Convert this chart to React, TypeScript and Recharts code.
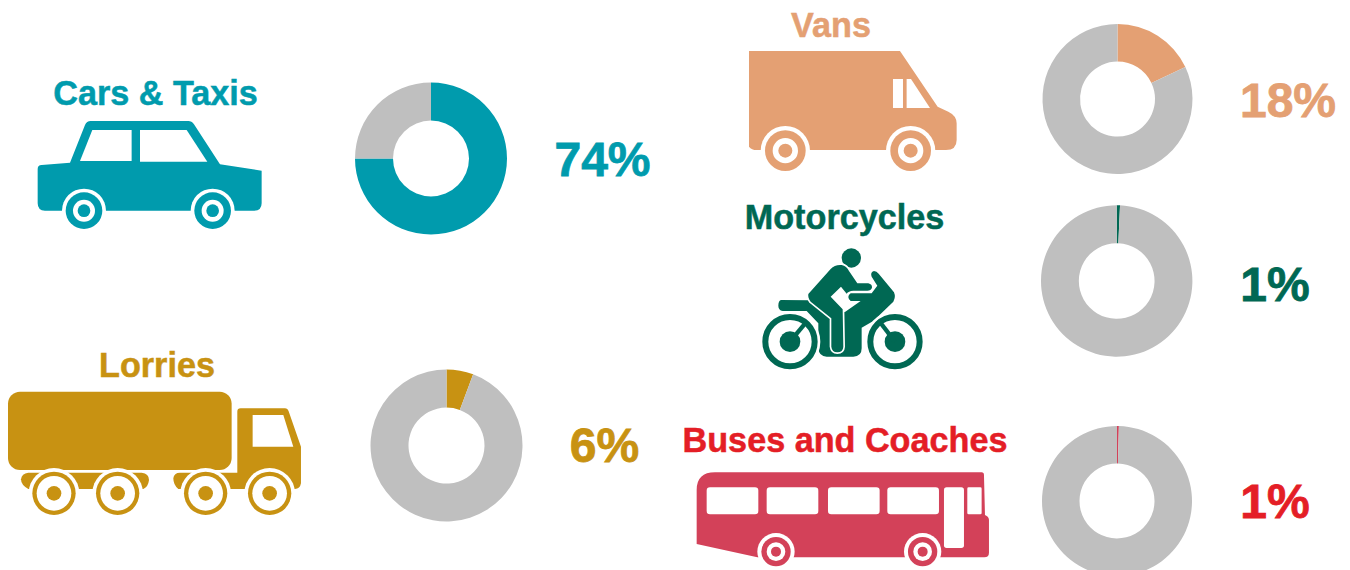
import React from "react";
import { PieChart, Pie, Cell } from "recharts";

const categories = ["Cars & Taxis", "Lorries", "Vans", "Motorcycles", "Buses and Coaches"];
const shareLabels = ["74%", "6%", "18%", "1%", "1%"];
const shareValues = [75, 5.7, 18, 0.7, 0.4];
const restValues = [25, 94.3, 82, 99.3, 99.6];

const GREY = "#BFBFBF";
const iconColors = ["#009BAD", "#C89212", "#E4A073", "#006853", "#D34159"];
const textColors = ["#009BAD", "#C89212", "#E4A073", "#006853", "#E41E26"];
const pieCenters = [
  [431, 158.5, 76],
  [446.5, 445.5, 76],
  [1117.5, 99, 75],
  [1116.7, 281, 75.7],
  [1117, 501, 75],
];
const titlePos = [
  [155.5, 105],
  [157, 377],
  [831, 37],
  [844.5, 229],
  [845, 452],
];
const labelPos = [
  [602.5, 176],
  [604.5, 462],
  [1288, 117],
  [1275, 301],
  [1275, 518],
];

const FONT = "'Liberation Sans', Arial, sans-serif";

function Wheel({ x, y, gap, outer, inner, hub, color }: any) {
  return (
    <g>
      <circle cx={x} cy={y} r={gap} fill="#fff" />
      <circle cx={x} cy={y} r={outer} fill={color} />
      <circle cx={x} cy={y} r={inner} fill="#fff" />
      <circle cx={x} cy={y} r={hub} fill={color} />
    </g>
  );
}

function Car({ color }: { color: string }) {
  return (
    <g transform="translate(20,70) scale(0.3333)" fill={color}>
      <path d="M150,278 L195,165 Q200,153 212,153 L505,153 Q515,153 522,163 L600,283 L725,302 L725,400 Q725,422 703,422 L75,422 Q53,422 53,400 L53,297 Q53,285 65,285 Z" />
      <path d="M217,180 L335,180 L335,273 L180,273 Z" fill="#fff" />
      <path d="M360,180 L500,180 L562,275 L360,275 Z" fill="#fff" />
      <Wheel x={192} y={422} gap={66} outer={55} inner={33} hub={19} color={color} />
      <Wheel x={578} y={422} gap={66} outer={55} inner={33} hub={19} color={color} />
    </g>
  );
}

function Lorry({ color }: { color: string }) {
  return (
    <g transform="translate(0,340) scale(0.3333)" fill={color}>
      <rect x={24} y={155} width={671} height={235} rx={36} />
      <path d="M712,215 Q712,205 722,205 L855,205 Q863,205 866,214 L903,320 L903,430 Q900,447 885,447 L535,447 Q520,435 520,415 Q522,398 540,398 L712,398 Z" />
      <path d="M85,398 L425,398 Q447,400 447,420 Q445,440 430,447 L85,447 Q63,435 63,418 Q65,400 85,398 Z" />
      <path d="M758,225 L850,225 L880,320 L758,320 Z" fill="#fff" />
      <Wheel x={162} y={460} gap={76} outer={65} inner={52} hub={22} color={color} />
      <Wheel x={353} y={460} gap={76} outer={65} inner={52} hub={22} color={color} />
      <Wheel x={617} y={460} gap={76} outer={65} inner={52} hub={22} color={color} />
      <Wheel x={809} y={460} gap={76} outer={65} inner={52} hub={22} color={color} />
    </g>
  );
}

function Van({ color }: { color: string }) {
  return (
    <g transform="translate(740,0) scale(0.3333)" fill={color}>
      <path d="M27,153 L480,153 L593,320 L625,335 Q650,347 650,370 L650,420 Q650,450 618,450 L50,450 Q35,450 27,440 Z" />
      <rect x={459} y={237} width={30} height={87} fill="#fff" />
      <path d="M500,237 L513,237 L570,324 L500,324 Z" fill="#fff" />
      <Wheel x={136} y={452} gap={74} outer={61} inner={38} hub={21} color={color} />
      <Wheel x={512} y={452} gap={74} outer={61} inner={38} hub={21} color={color} />
    </g>
  );
}

function Motorcycle({ color }: { color: string }) {
  const wheel = (x: number) => (
    <g>
      <circle cx={x} cy={440} r={91} fill="#fff" />
      <circle cx={x} cy={440} r={74} fill="#fff" stroke={color} strokeWidth={18} />
      <circle cx={x} cy={440} r={31} fill={color} />
    </g>
  );
  return (
    <g transform="translate(740,195) scale(0.3333)" fill={color}>
      <path d="M125,315 L205,316 L268,365 L316,350 L362,318 L332,318 Q318,306 332,295 L395,295 L412,272 L395,245 Q390,232 402,228 Q410,228 416,236 L462,292 Q468,306 460,320 L400,378 L365,398 L365,460 Q365,485 340,485 L260,485 Q237,485 235,460 L235,385 L200,348 L128,348 Q115,345 115,332 Q115,315 125,315 Z" />
      {wheel(150)}
      {wheel(465)}
      <path d="M200,380 L150,440" stroke={color} strokeWidth={13} />
      <path d="M415,375 L465,440" stroke={color} strokeWidth={13} />
      <circle cx={334} cy={189} r={29} />
      <path
        d="M205,297 L272,222 Q285,208 305,210 Q320,213 327,228 L352,265 L385,265 Q397,268 396,278 Q393,287 382,287 L340,287 Q325,288 320,296 L303,275 L272,305 L308,343 L310,455 Q309,472 292,472 Q276,472 274,455 L274,370 L212,320 Q203,308 205,297 Z"
        stroke="#fff"
        strokeWidth={10}
        style={{ paintOrder: "stroke" }}
      />
    </g>
  );
}

function Bus({ color }: { color: string }) {
  const windows = [80, 260, 444, 622];
  return (
    <g transform="translate(680,420) scale(0.3333)" fill={color}>
      <path d="M50,210 Q50,157 105,157 L905,157 Q912,157 912,165 L915,285 Q927,290 927,300 L927,398 Q927,412 913,412 L232,412 L50,372 Z" />
      {windows.map((x) => (
        <rect key={x} x={x} y={202} width={155} height={81} rx={10} fill="#fff" />
      ))}
      <rect x={792} y={202} width={60} height={182} rx={8} fill="#fff" />
      <rect x={862} y={202} width={43} height={81} rx={4} fill="#fff" />
      <Wheel x={288} y={395} gap={56} outer={44} inner={28} hub={15} color={color} />
      <Wheel x={728} y={395} gap={56} outer={44} inner={28} hub={15} color={color} />
    </g>
  );
}

const icons = [Car, Lorry, Van, Motorcycle, Bus];

export default function App() {
  return (
    <div style={{ position: "absolute", left: 0, top: 0, width: 1350, height: 570, background: "#fff", overflow: "hidden" }}>
      <svg width={1350} height={570} style={{ position: "absolute", left: 0, top: 0 }}>
        {icons.map((Icon, i) => (
          <Icon key={i} color={iconColors[i]} />
        ))}
        {categories.map((c, i) => (
          <text key={c} x={titlePos[i][0]} y={titlePos[i][1]} textAnchor="middle" fontFamily={FONT} fontWeight="bold" fontSize={34.2} fill={textColors[i]} stroke={textColors[i]} strokeWidth={0.5}>
            {c}
          </text>
        ))}
        {shareLabels.map((l, i) => (
          <text key={i} x={labelPos[i][0]} y={labelPos[i][1]} textAnchor="middle" fontFamily={FONT} fontWeight="bold" fontSize={48} fill={textColors[i]} stroke={textColors[i]} strokeWidth={0.8}>
            {l}
          </text>
        ))}
      </svg>
      <div style={{ position: "absolute", left: 0, top: 0 }}>
        <PieChart width={1350} height={570} margin={{ top: 0, right: 0, bottom: 0, left: 0 }}>
          {categories.map((c, i) => (
            <Pie
              key={c}
              data={[
                { name: c, value: shareValues[i] },
                { name: "Other", value: restValues[i] },
              ]}
              dataKey="value"
              nameKey="name"
              cx={pieCenters[i][0]}
              cy={pieCenters[i][1]}
              outerRadius={pieCenters[i][2]}
              innerRadius={pieCenters[i][2] / 2}
              startAngle={90}
              endAngle={-270}
              stroke="none"
              isAnimationActive={false}
            >
              <Cell fill={iconColors[i]} />
              <Cell fill={GREY} />
            </Pie>
          ))}
        </PieChart>
      </div>
    </div>
  );
}
